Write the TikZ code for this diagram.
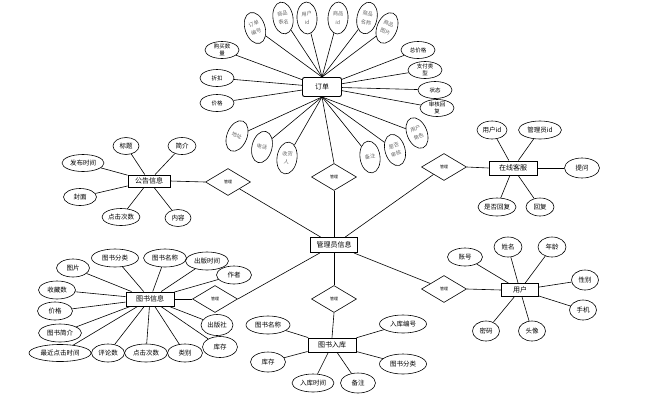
\documentclass[tikz,border=0pt]{standalone}
\usepackage{fontspec}
\setmainfont{Noto Sans CJK SC}
\usetikzlibrary{shapes.geometric}
\begin{document}
\begin{tikzpicture}[x=1pt,y=1pt,
 ent/.style={draw, line width=0.9pt, rectangle, inner sep=0pt, font=\fontsize{7}{8}\selectfont},
 attr/.style={draw, ellipse, line width=0.6pt, inner sep=0pt, minimum width=#1, minimum height=18pt, font=\fontsize{6.5}{7}\selectfont},
 attr/.default=36pt,
 oattr/.style={draw, ellipse, line width=0.6pt, inner sep=0pt, minimum width=34pt, minimum height=17pt, align=center, font=\fontsize{5.5}{6.5}\selectfont},
 rattr/.style={draw, ellipse, line width=0.6pt, inner sep=0pt, minimum width=20pt, minimum height=32pt, align=center, font=\fontsize{5.2}{8.5}\selectfont, text=black!60},
 rel/.style={draw, diamond, line width=0.6pt, inner sep=0pt, minimum width=45pt, minimum height=27pt, font=\fontsize{4}{4}\selectfont},
 lk/.style={line width=0.6pt}]
\useasboundingbox (0,0) rectangle (648,-400);

% ---------- 订单 ----------
\node[ent, rounded corners=2pt, minimum width=39pt, minimum height=19pt] (order) at (322,-87) {订单};
\node[rattr, rotate=18] (o1) at (255,-28) {订单\\编号};
\node[rattr, rotate=9] (o2) at (283,-18) {商品\\表名};
\node[rattr, rotate=3] (o3) at (307,-18) {用户\\id};
\node[rattr, rotate=-3] (o4) at (338,-18) {商品\\id};
\node[rattr, rotate=-12] (o5) at (367,-18) {商品\\名称};
\node[rattr, rotate=-22] (o6) at (387,-28) {商品\\图片};
\node[oattr] (o7) at (222,-50) {购买数\\量};
\node[oattr] (o8) at (217,-78) {折扣};
\node[oattr] (o9) at (217,-103) {价格};
\node[oattr] (o10) at (418,-50) {总价格};
\node[oattr] (o11) at (425,-70) {支付类\\型};
\node[oattr] (o12) at (435,-90) {状态};
\node[oattr] (o13) at (437,-108) {审核回\\复};
\node[rattr, rotate=-22] (o14) at (237,-136) {地址};
\node[rattr, rotate=-14] (o15) at (262,-147) {电话};
\node[rattr, rotate=-8] (o16) at (287,-158) {收货\\人};
\node[rattr, rotate=8] (o17) at (370,-157) {备注};
\node[rattr, rotate=16] (o18) at (395,-150) {是否\\审核};
\node[rattr, rotate=22] (o19) at (417,-133) {用户\\角色};
\foreach \n in {o1,o2,o3,o4,o5,o6} \draw[lk] (\n) -- (order.north);
\foreach \n in {o7,o8,o9,o10,o11,o12,o13} \draw[lk] (\n) -- (order);
\foreach \n in {o14,o15,o16,o17,o18,o19} \draw[lk] (\n) -- (order.south);

% ---------- 管理员信息 ----------
\node[ent, minimum width=47pt, minimum height=15pt] (admin) at (334,-245) {管理员信息};
\node[rel] (dord) at (334,-177) {管理};
\draw[lk] (dord.north) -- (order.south);
\draw[lk] (dord.south) -- (admin.north);

% ---------- 公告信息 ----------
\node[ent, minimum width=42pt, minimum height=12pt] (ann) at (149,-181) {公告信息};
\node[attr=26pt, minimum height=17pt] (a1) at (126,-146) {标题};
\node[attr=28pt, minimum height=17pt] (a2) at (182,-146) {简介};
\node[attr=42pt, minimum height=17pt] (a3) at (83,-163) {发布时间};
\node[attr=33pt, minimum height=17pt] (a4) at (80,-197) {封面};
\node[attr=38pt, minimum height=17pt] (a5) at (121,-217) {点击次数};
\node[attr=26pt, minimum height=17pt] (a6) at (178,-218) {内容};
\foreach \n in {a1,a2,a3,a4,a5,a6} \draw[lk] (\n) -- (ann);
\node[rel] (dann) at (228,-182) {管理};
\draw[lk] (ann.east) -- (dann.west);
\draw[lk] (dann) -- (admin);

% ---------- 在线客服 ----------
\node[ent, minimum width=48pt, minimum height=14pt] (chat) at (513,-168) {在线客服};
\node[attr=30pt] (c1) at (492,-130) {用户id};
\node[attr=43pt] (c2) at (540,-130) {管理员id};
\node[attr=35pt, minimum height=20pt] (c3) at (582,-168) {提问};
\node[attr=38pt] (c4) at (497,-207) {是否回复};
\node[attr=28pt] (c5) at (540,-207) {回复};
\foreach \n in {c1,c2,c3,c4,c5} \draw[lk] (\n) -- (chat);
\node[rel] (dchat) at (444,-167) {管理};
\draw[lk] (chat.west) -- (dchat.east);
\draw[lk] (dchat) -- (admin);

% ---------- 用户 ----------
\node[ent, minimum width=37pt, minimum height=13pt] (user) at (520,-290) {用户};
\node[attr=35pt] (u1) at (465,-257) {账号};
\node[attr=28pt, minimum height=20pt] (u2) at (508,-247) {姓名};
\node[attr=28pt, minimum height=20pt] (u3) at (552,-247) {年龄};
\node[attr=27pt, minimum height=20pt] (u4) at (585,-280) {性别};
\node[attr=27pt, minimum height=20pt] (u5) at (583,-310) {手机};
\node[attr=27pt, minimum height=20pt] (u6) at (532,-331) {头像};
\node[attr=27pt, minimum height=20pt] (u7) at (486,-331) {密码};
\foreach \n in {u1,u2,u3,u4,u5,u6,u7} \draw[lk] (\n) -- (user);
\node[rel] (duser) at (444,-289) {管理};
\draw[lk] (user.west) -- (duser.east);
\draw[lk] (duser) -- (admin);

% ---------- 图书入库 ----------
\node[ent, minimum width=48pt, minimum height=14pt] (stock) at (332,-345) {图书入库};
\node[attr=44pt] (s1) at (268,-325) {图书名称};
\node[attr=35pt, minimum height=20pt] (s2) at (268,-362) {库存};
\node[attr=42pt] (s3) at (313,-383) {入库时间};
\node[attr=35pt, minimum height=20pt] (s4) at (358,-383) {备注};
\node[attr=47pt] (s5) at (403,-324) {入库编号};
\node[attr=47pt, minimum height=20pt] (s6) at (403,-364) {图书分类};
\foreach \n in {s1,s2,s3,s4,s5,s6} \draw[lk] (\n) -- (stock);
\node[rel] (dstock) at (334,-299) {管理};
\draw[lk] (admin.south) -- (dstock.north);
\draw[lk] (dstock.south) -- (stock.north);

% ---------- 图书信息 ----------
\node[ent, minimum width=48pt, minimum height=14pt] (book) at (150,-299) {图书信息};
\node[attr=47pt] (b1) at (115,-258) {图书分类};
\node[attr=43pt] (b2) at (165,-258) {图书名称};
\node[attr=43pt] (b3) at (207,-261) {出版时间};
\node[attr=35pt] (b4) at (234,-275) {作者};
\node[attr=33pt] (b5) at (73,-268) {图片};
\node[attr=37pt] (b6) at (57,-290) {收藏数};
\node[attr=35pt] (b7) at (55,-311) {价格};
\node[attr=43pt] (b8) at (60,-333) {图书简介};
\node[attr=62pt, minimum height=17pt] (b9) at (60,-353) {最近点击时间};
\node[attr=33pt] (b10) at (108,-353) {评论数};
\node[attr=43pt] (b11) at (146,-353) {点击次数};
\node[attr=35pt] (b12) at (185,-353) {类别};
\node[attr=32pt, minimum height=21pt] (b13) at (217,-325) {出版社};
\node[attr=35pt, minimum height=21pt] (b14) at (220,-347) {库存};
\foreach \n in {b1,b2,b3,b4,b5,b6,b7,b8,b9,b10,b11,b12,b13,b14} \draw[lk] (\n) -- (book);
\node[rel] (dbook) at (215,-299) {管理};
\draw[lk] (book.east) -- (dbook.west);
\draw[lk] (dbook.east) -- (admin);
\end{tikzpicture}
\end{document}
